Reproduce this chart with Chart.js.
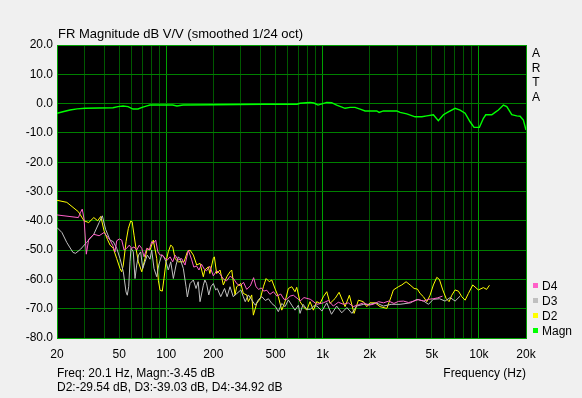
<!DOCTYPE html>
<html>
<head>
<meta charset="utf-8">
<script src="https://cdn.jsdelivr.net/npm/chart.js@4.4.1/dist/chart.umd.min.js"></script>
<style>
html,body{margin:0;padding:0;background:#f0f0f0;}
canvas{display:block;}
</style>
</head>
<body>
<canvas id="c" width="582" height="398"></canvas>
<script>
// ---- Data ----
const magnFreq = [20, 21.8, 24.2, 26.9, 30.2, 45.6, 49.1, 52.9, 56.9, 61.3,
  66, 70, 75.3, 78.7, 110, 117, 128, 200, 416, 686,
  717, 831, 880, 935, 1063, 1143, 1230, 1392, 1499, 1613,
  1737, 1870, 2220, 2298, 2448, 2980, 3130, 3456, 3904, 4310,
  4640, 5112, 5500, 5925, 6376, 7036, 7576, 8156, 8774, 9308,
  10066, 10680, 11060, 12080, 12680, 13320, 14340, 15070, 16220, 17460,
  18330, 19240, 20000];
const magnDb = [-3.3, -2.8, -2.2, -1.8, -1.6, -1.4, -1.05, -0.8, -1.05, -1.85,
  -1.85, -1.3, -0.8, -0.5, -0.5, -0.8, -0.5, -0.4, -0.2, -0.2,
  0.1, 0.4, 0.2, -0.5, 0.4, 0.3, -0.5, -1.6, -1.3, -1.3,
  -1.9, -2.5, -2.5, -3.0, -2.5, -2.5, -3.0, -3.5, -4.5, -4.5,
  -4.2, -3.8, -5.8, -3.8, -2.8, -1.6, -2.2, -3.3, -6.2, -8.1,
  -8.1, -5.0, -3.8, -3.8, -3.0, -2.2, -0.5, -1.0, -3.8, -4.2,
  -4.3, -5.6, -9.0];

const d2Freq = [20, 23.1, 27.4, 29.8, 31.9, 34.4, 36.4, 38.1, 40, 42,
  43.7, 45.8, 48.2, 50.6, 51.9, 53.1, 55.3, 57.2, 59.2, 60.5,
  62.2, 64, 66.3, 69.7, 73.1, 75.6, 78.7, 82.6, 86.9, 89,
  91.2, 94.3, 96.7, 99.6, 103, 106.8, 110, 113.8, 119.4, 129.9,
  136.4, 141.9, 149, 156.6, 164.4, 172.6, 176.5, 185.8, 190, 200,
  203, 210, 220.8, 231.8, 243.7, 255.8, 262.3, 275.4, 282, 300,
  311, 327, 335, 352, 360.6, 379, 400, 418, 435, 456,
  473, 500, 521, 548, 575, 604, 635, 666, 683, 717,
  753, 792, 831, 873, 917, 963, 1011, 1063, 1116, 1202,
  1275, 1392, 1483, 1590, 1694, 1822, 1916, 2010, 2166, 2332,
  2574, 2745, 2836, 3053, 3210, 3420, 3628, 3848, 4040, 4202,
  4412, 4640, 4868, 5112, 5375, 5585, 5872, 6166, 6442, 6704,
  7036, 7390, 7768, 8156, 8560, 9130, 9920, 10680, 11200, 11670];
const d2Db = [-33.0, -33.7, -36.9, -40, -40.6, -38.9, -40, -38.5, -43.4, -46.3,
  -48.3, -49.4, -52.9, -56.3, -57.4, -55.1, -47.1, -42.6, -40.1, -40.3,
  -44.9, -49.4, -54, -57.4, -52.9, -49.4, -50, -46.6, -52.9, -60.3,
  -63.7, -64, -59.7, -54, -50.6, -48.3, -48.9, -52.9, -54, -54,
  -50.6, -50, -51.7, -55.1, -54.5, -59.1, -56.8, -55.7, -58, -52.8,
  -52.3, -58, -56.8, -61.9, -59.1, -57.4, -56.8, -65.3, -62.5, -61.4,
  -64.8, -65.3, -67.6, -65.3, -72.2, -68.2, -66.5, -62.5, -59.7, -60.8,
  -60.2, -63.6, -65.9, -70.5, -67.6, -63.1, -62.5, -64.2, -62.7, -67.6,
  -69.3, -70.5, -67.6, -70.5, -67.6, -68.2, -65.9, -64.2, -68.2, -66.5,
  -64.4, -69.3, -65.4, -71.6, -67.1, -67.6, -69.3, -68, -68, -69.3,
  -69.9, -65.9, -63.6, -62.5, -61.9, -60.8, -61.9, -63.1, -63.3, -64.8,
  -65.9, -67.6, -65.4, -61.9, -59.3, -60, -63.6, -66.5, -67.6, -65.4,
  -63.6, -64, -65.9, -67.1, -64.8, -61.9, -63.6, -62.8, -63.4, -62];

const d3Freq = [20, 21.5, 23.1, 25.3, 26.3, 28.3, 30.9, 34.4, 37.2, 39,
  40.9, 43.7, 45.8, 48.2, 50.6, 53.1, 55.3, 56.3, 57.5, 58.6,
  59.5, 61.5, 63.1, 64.7, 66.5, 68.6, 70.7, 73.1, 75.6, 78.7,
  80.7, 83.5, 86.9, 89.5, 93.5, 96.5, 99.6, 103, 106.8, 111,
  115.5, 119.4, 122.5, 128.6, 133.8, 136.4, 141.9, 149, 155, 160,
  164.4, 172.6, 176.5, 181, 187, 193, 200, 207, 212, 223,
  236, 245, 255.8, 268, 283, 300, 311, 320, 335, 352,
  371, 390, 409, 430, 450, 473, 500, 521, 548, 575,
  604, 635, 666, 700, 717, 750, 792, 835, 880, 920,
  990, 1063, 1140, 1230, 1325, 1430, 1540, 1650, 1830, 2010,
  2200, 2450, 2745, 3130, 3650, 4010, 4430, 4760, 5100, 5600,
  6070, 6540, 7040, 7580];
const d3Db = [-42.3, -44, -47.4, -50.8, -51.1, -49.7, -47.4, -44.6, -40.6, -38.3,
  -42.9, -46.6, -47.1, -49.4, -52.9, -57.4, -64.3, -65.4, -62.5, -54,
  -49.4, -50.6, -59.7, -55.1, -51.7, -50.6, -56.3, -54, -51.7, -53.1,
  -50, -56.3, -59.1, -55.1, -51.7, -52.3, -54, -56.8, -54, -59.7,
  -55.1, -52.3, -52.9, -56.3, -62.5, -66, -61.4, -60.2, -63.1, -60.8,
  -67.6, -62, -60.2, -61.4, -65.3, -62.5, -61.4, -63.6, -63.1, -65.9,
  -63.1, -65.9, -62.5, -65.9, -64.8, -63.6, -65.9, -67.6, -65.3, -67,
  -68.8, -66.8, -65.9, -67.2, -66.6, -68.2, -69.3, -71, -68.2, -69.3,
  -67, -68.8, -70.5, -68.8, -71.6, -68.5, -70.2, -70.2, -69, -69.1,
  -70.8, -68, -71.9, -69.1, -71.4, -69.6, -71.6, -69.1, -68.5, -68.5,
  -68, -69.1, -68.5, -68.5, -68, -66.8, -67.4, -68.5, -66.8, -66.6,
  -67.4, -66.2, -67.4, -65.7];

const d4Freq = [20, 27.4, 28.3, 29, 29.8, 30.8, 31.9, 34.4, 37.2, 40,
  43.7, 45.4, 47, 48.2, 50.1, 51.9, 53.7, 55.8, 58, 60,
  62.2, 64.7, 67.2, 69.7, 72.1, 75, 77.8, 80.7, 82.6, 85.6,
  88.4, 91.2, 94.7, 98.2, 101.6, 105.7, 110, 113.8, 119.4, 125.5,
  131.8, 138.4, 145, 150, 156, 162, 168, 175, 181, 190,
  200, 210, 221, 232, 243, 256, 269, 283, 297, 312,
  327, 345, 362, 375, 390, 405, 420, 440, 460, 485,
  510, 540, 566, 590, 620, 650, 700, 717, 760, 835,
  920, 1010, 1090, 1170, 1260, 1360, 1460, 1570, 1700, 1830,
  1970, 2110, 2280, 2450, 2650, 2860, 3060, 3290, 3550, 3830,
  4100, 4430, 4760, 5100, 5450, 5850];
const d4Db = [-38, -38.9, -37.1, -36, -39.4, -51.4, -46.3, -44.6, -45.1, -44,
  -46.6, -48.3, -50.6, -46.8, -46.2, -46.6, -50, -49.4, -48.3, -49.4,
  -48.9, -50, -48.3, -49.4, -52.3, -49.4, -50, -47.1, -47.7, -46.6,
  -50.6, -51.7, -51.7, -52.9, -53.4, -52.3, -54, -51.7, -53.4, -52.9,
  -55.1, -50, -53.1, -55.8, -55.4, -56.8, -54.8, -56.5, -57.1, -55.5,
  -58.8, -57, -58.2, -59.9, -60.5, -58.9, -59.7, -61.5, -62.2, -61,
  -63.4, -62.2, -59.4, -62.5, -63.4, -62.9, -64, -63.7, -65.1, -64.2,
  -65.7, -65, -66.8, -66.8, -65.7, -65.4, -66.8, -67.4, -66.2, -66.8,
  -68.5, -68, -67.2, -69.1, -67.8, -68.5, -68, -69.3, -68.6, -68,
  -68.8, -68.5, -67.6, -68, -67.4, -68.2, -67.5, -67.4, -67.9, -67.4,
  -66.9, -67.4, -66.8, -66.6, -66.3, -65.7];

const xGridValues = [20, 30, 40, 50, 60, 70, 80, 90, 100, 200, 300, 400, 500, 600, 700, 800, 900,
  1000, 2000, 3000, 4000, 5000, 6000, 7000, 8000, 9000, 10000, 20000];
const xTickLabels = {20: '20', 50: '50', 100: '100', 200: '200', 500: '500', 1000: '1k',
  2000: '2k', 5000: '5k', 10000: '10k', 20000: '20k'};
const yTickValues = [20, 10, 0, -10, -20, -30, -40, -50, -60, -70, -80];
const xMajor = [100, 1000, 10000, 20000];

const titleText = 'FR Magnitude dB V/V (smoothed 1/24 oct)';
const sideText = ['A', 'R', 'T', 'A'];
const cursorLine1 = 'Freq: 20.1 Hz, Magn:-3.45 dB';
const cursorLine2 = 'D2:-29.54 dB, D3:-39.03 dB, D4:-34.92 dB';
const xAxisTitle = 'Frequency (Hz)';
const legendOrder = ['D4', 'D3', 'D2', 'Magn'];

const FONT = "'Liberation Sans', Arial, sans-serif";

function pts(f, d) { return f.map((v, i) => ({x: v, y: d[i]})); }

const datasets = [
  {label: 'D4', data: pts(d4Freq, d4Db), borderColor: '#ff60c8', order: 0},
  {label: 'D3', data: pts(d3Freq, d3Db), borderColor: '#c0c0c0', order: 1},
  {label: 'D2', data: pts(d2Freq, d2Db), borderColor: '#ffff00', order: 2},
  {label: 'Magn', data: pts(magnFreq, magnDb), borderColor: '#00ff00', order: 3, borderWidth: 1.4}
].map(ds => Object.assign({borderWidth: 1, pointRadius: 0, tension: 0, fill: false}, ds));

const bgPlugin = {
  id: 'bg',
  beforeDraw(chart) {
    const {ctx, chartArea: a} = chart;
    ctx.save();
    ctx.fillStyle = '#f0f0f0';
    ctx.fillRect(0, 0, chart.width, chart.height);
    ctx.fillStyle = '#000000';
    ctx.fillRect(a.left, a.top, a.right - a.left, a.bottom - a.top);
    ctx.restore();
  }
};

const textPlugin = {
  id: 'texts',
  afterDraw(chart) {
    const {ctx, chartArea: a} = chart;
    ctx.save();
    ctx.fillStyle = '#000';
    ctx.textBaseline = 'alphabetic';
    ctx.textAlign = 'left';
    ctx.font = '13px ' + FONT;
    ctx.fillText(titleText, a.left + 1, 38);
    ctx.font = '12px ' + FONT;
    ctx.fillText(cursorLine1, a.left, 377);
    ctx.fillText(cursorLine2, a.left, 391);
    ctx.textAlign = 'right';
    ctx.fillText(xAxisTitle, a.right, 377);
    ctx.textAlign = 'center';
    sideText.forEach((s, i) => ctx.fillText(s, a.right + 10, 57 + i * 14.6));
    // legend
    ctx.textAlign = 'left';
    legendOrder.forEach((name, i) => {
      const ds = chart.data.datasets.find(d => d.label === name);
      const yb = 290 + i * 15;
      ctx.fillStyle = ds.borderColor;
      ctx.fillRect(a.right + 7, yb - 7, 5, 5);
      ctx.fillStyle = '#000';
      ctx.fillText(name, a.right + 16, yb);
    });
    ctx.restore();
  }
};

new Chart(document.getElementById('c'), {
  type: 'line',
  data: {datasets},
  plugins: [bgPlugin, textPlugin],
  options: {
    responsive: false,
    animation: false,
    devicePixelRatio: 1,
    layout: {padding: {top: 45, right: 56, left: 0, bottom: 0}},
    plugins: {legend: {display: false}, tooltip: {enabled: false}, title: {display: false}},
    scales: {
      x: {
        type: 'logarithmic',
        min: 20, max: 20000,
        afterBuildTicks: s => { s.ticks = xGridValues.map(v => ({value: v})); },
        afterFit: s => { s.height = 60; },
        grid: {
          drawTicks: false,
          lineWidth: 1,
          color: c => (c.tick && xMajor.includes(c.tick.value)) ? '#00a000' : '#005800'
        },
        border: {color: '#00a000', width: 1},
        ticks: {
          autoSkip: false, maxRotation: 0, minRotation: 0, padding: 9,
          color: '#000', font: {family: FONT, size: 12},
          callback: v => xTickLabels[v] || ''
        }
      },
      y: {
        type: 'linear',
        min: -80, max: 20,
        afterBuildTicks: s => { s.ticks = yTickValues.map(v => ({value: v})); },
        afterFit: s => { s.width = 57; },
        grid: {
          drawTicks: false,
          lineWidth: 1,
          color: c => (c.tick && c.tick.value === 20) ? '#00a000' : '#008000'
        },
        border: {color: '#00a000', width: 1},
        ticks: {
          padding: 4, color: '#000', font: {family: FONT, size: 12},
          callback: v => Number(v).toFixed(1)
        }
      }
    }
  }
});
</script>
</body>
</html>
